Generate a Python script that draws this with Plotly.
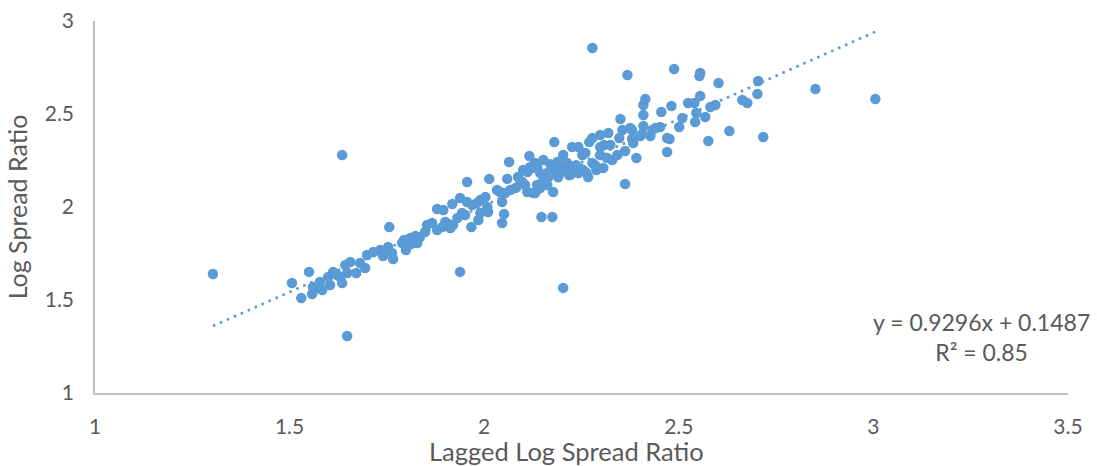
import plotly.graph_objects as go

lagged_log_spread = [
    1.303, 1.506, 1.530, 1.550, 1.558, 1.560, 1.573, 1.578, 1.584, 1.599,
    1.604, 1.612, 1.622, 1.630, 1.635, 1.635, 1.643, 1.648, 1.648, 1.656,
    1.671, 1.681, 1.694, 1.699, 1.715, 1.733, 1.740, 1.753, 1.756, 1.763,
    1.766, 1.789, 1.794, 1.799, 1.802, 1.810, 1.812, 1.823, 1.828, 1.835,
    1.848, 1.853, 1.866, 1.879, 1.879, 1.892, 1.895, 1.900, 1.913, 1.918,
    1.920, 1.931, 1.938, 1.938, 1.943, 1.951, 1.956, 1.956, 1.967, 1.969,
    1.982, 1.985, 1.990, 1.990, 2.003, 2.008, 2.010, 2.013, 2.033, 2.041,
    2.046, 2.046, 2.051, 2.054, 2.059, 2.064, 2.067, 2.080, 2.087, 2.093,
    2.098, 2.100, 2.105, 2.111, 2.111, 2.116, 2.118, 2.123, 2.126, 2.131,
    2.131, 2.136, 2.136, 2.144, 2.144, 2.147, 2.152, 2.152, 2.162, 2.162,
    2.165, 2.175, 2.177, 2.177, 2.180, 2.188, 2.203, 2.203, 2.213, 2.221,
    2.226, 2.229, 2.242, 2.242, 2.252, 2.254, 2.260, 2.267, 2.270, 2.278,
    2.278, 2.278, 2.288, 2.298, 2.298, 2.298, 2.306, 2.308, 2.319, 2.324,
    2.329, 2.342, 2.347, 2.350, 2.355, 2.362, 2.362, 2.368, 2.375, 2.380,
    2.380, 2.383, 2.391, 2.401, 2.406, 2.409, 2.409, 2.409, 2.414, 2.427,
    2.432, 2.440, 2.452, 2.455, 2.470, 2.470, 2.476, 2.481, 2.488, 2.501,
    2.509, 2.524, 2.540, 2.545, 2.542, 2.555, 2.553, 2.555, 2.568, 2.576,
    2.581, 2.594, 2.602, 2.630, 2.663, 2.676, 2.702, 2.704, 2.717, 2.851,
    3.005,
    2.196, 2.208, 2.218, 2.236, 2.248, 2.262, 2.285, 2.315, 2.170, 2.190,
]

log_spread = [
    1.640, 1.591, 1.511, 1.651, 1.532, 1.570, 1.565, 1.597, 1.554, 1.624,
    1.581, 1.651, 1.634, 1.624, 1.591, 2.280, 1.688, 1.645, 1.306, 1.704,
    1.645, 1.699, 1.672, 1.742, 1.758, 1.769, 1.737, 1.785, 1.892, 1.753,
    1.720, 1.806, 1.823, 1.769, 1.817, 1.833, 1.801, 1.844, 1.806, 1.839,
    1.866, 1.903, 1.914, 1.876, 1.989, 1.892, 1.984, 1.919, 1.887, 2.016,
    1.903, 1.941, 2.048, 1.651, 1.968, 1.957, 2.134, 2.027, 1.892, 2.011,
    2.022, 1.930, 2.038, 1.968, 2.054, 2.000, 1.973, 2.151, 2.091, 2.081,
    2.027, 1.914, 1.962, 2.075, 2.151, 2.242, 2.091, 2.102, 2.161, 2.129,
    2.134, 2.199, 2.118, 2.081, 2.188, 2.274, 2.215, 2.210, 2.075, 2.237,
    2.075, 2.215, 2.118, 2.183, 2.102, 1.946, 2.253, 2.145, 2.183, 2.118,
    2.161, 1.946, 2.199, 2.081, 2.349, 2.242, 2.280, 1.565, 2.237, 2.172,
    2.323, 2.210, 2.323, 2.183, 2.280, 2.199, 2.290, 2.161, 2.349, 2.855,
    2.371, 2.237, 2.199, 2.387, 2.323, 2.280, 2.210, 2.333, 2.398, 2.333,
    2.253, 2.280, 2.371, 2.473, 2.414, 2.301, 2.124, 2.710, 2.425, 2.414,
    2.366, 2.344, 2.263, 2.382, 2.392, 2.548, 2.495, 2.435, 2.581, 2.382,
    2.414, 2.425, 2.430, 2.511, 2.371, 2.296, 2.366, 2.543, 2.742, 2.430,
    2.478, 2.559, 2.559, 2.505, 2.457, 2.720, 2.704, 2.597, 2.484, 2.355,
    2.538, 2.548, 2.667, 2.409, 2.575, 2.559, 2.608, 2.677, 2.376, 2.634,
    2.581,
    2.205, 2.190, 2.172, 2.225, 2.205, 2.185, 2.225, 2.265, 2.230, 2.160,
]

trend_slope = 0.9296
trend_intercept = 0.1487
trend_label = "y = 0.9296x + 0.1487<br>R² = 0.85"

x_title = "Lagged Log Spread Ratio"
y_title = "Log Spread Ratio"

BLUE = "#5B9BD5"
GRAY_TEXT = "#595959"
FONT = "Lato"

x_min = min(lagged_log_spread)
x_max = max(lagged_log_spread)
trend_x = [x_min, x_max]
trend_y = [trend_slope * v + trend_intercept for v in trend_x]

fig = go.Figure()
fig.add_trace(go.Scatter(
    x=trend_x, y=trend_y, mode="lines",
    line=dict(color=BLUE, width=2.6, dash="2.6px,5px"),
    hoverinfo="skip", showlegend=False,
))
fig.add_trace(go.Scatter(
    x=lagged_log_spread, y=log_spread, mode="markers",
    marker=dict(color=BLUE, size=10.5, line=dict(width=0)),
    showlegend=False,
))

fig.add_annotation(
    x=0.911, y=0.15, xref="paper", yref="paper",
    xanchor="center", yanchor="middle",
    text=trend_label, showarrow=False, align="center",
    font=dict(family=FONT, size=23, color=GRAY_TEXT),
)
# x-axis title, placed as in the reference (slightly left of plot centre)
fig.add_annotation(
    x=0.485, y=0, xref="paper", yref="paper",
    xanchor="center", yanchor="middle", yshift=-58, borderpad=0,
    text=x_title, showarrow=False,
    font=dict(family=FONT, size=25.5, color=GRAY_TEXT),
)

fig.update_layout(
    width=1097, height=466,
    margin=dict(l=95, r=29, t=21, b=73, autoexpand=False),
    paper_bgcolor="white", plot_bgcolor="white",
    font=dict(family=FONT, size=21, color=GRAY_TEXT),
    xaxis=dict(
        range=[1, 3.5], dtick=0.5, tick0=1, automargin=False,
        showgrid=False, zeroline=False,
        showline=True, linecolor="#BFBFBF", linewidth=1.5,
        ticks="", ticklabelstandoff=14,
    ),
    yaxis=dict(
        range=[1, 3], dtick=0.5, tick0=1, automargin=False,
        showgrid=False, zeroline=False,
        showline=True, linecolor="#BFBFBF", linewidth=1.5,
        ticks="", ticklabelstandoff=15,
        title=dict(text=y_title, font=dict(family=FONT, size=25, color=GRAY_TEXT), standoff=10),
    ),
)

fig.write_html(
    "out.html",
    config={"displayModeBar": False},
    post_script="document.body.style.margin='0';document.body.style.overflow='hidden';",
)
